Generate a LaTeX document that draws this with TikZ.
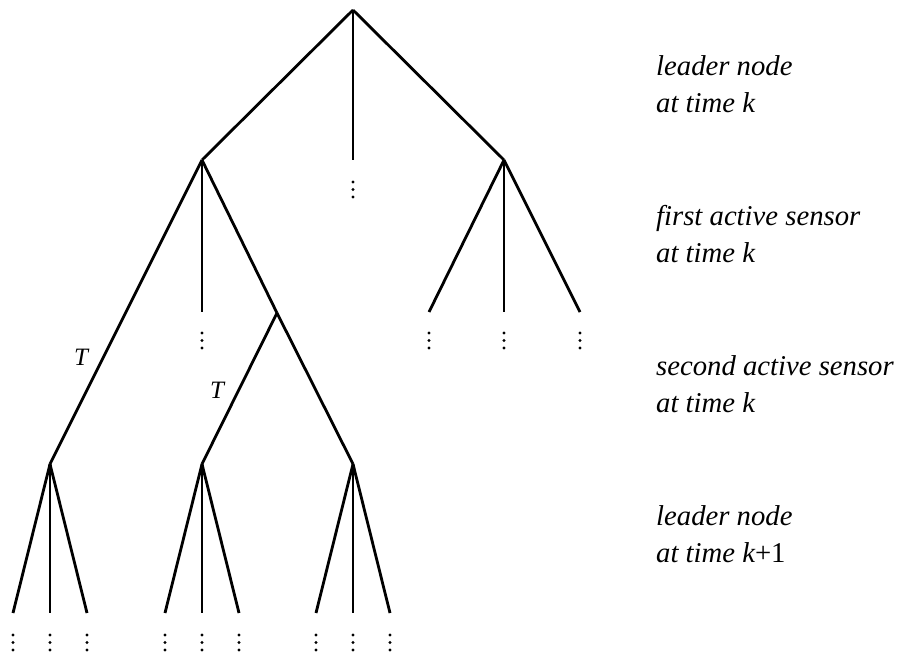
\documentclass[tikz,border=0pt]{standalone}
\usepackage{fontspec}
\setmainfont{Liberation Serif}
\usetikzlibrary{calc}
\begin{document}
\begin{tikzpicture}[x=1pt,y=-1pt,
  edge/.style={line width=2.8pt,line cap=butt,line join=miter},
  lbl/.style={anchor=base west,inner sep=0pt,font=\fontsize{28.7}{32}\selectfont\itshape},
  tlbl/.style={inner sep=0pt,font=\fontsize{25}{28}\selectfont\itshape},
  vd/.pic={\fill (0,0) circle (1.7) (0,7.5) circle (1.7) (0,15) circle (1.7);}]
\useasboundingbox (0,0) rectangle (904,656);

% tree vertices
\coordinate (R) at (353,10);
\coordinate (A) at (202,160);
\coordinate (M) at (353,160);
\coordinate (C) at (504,160);
\coordinate (Am) at (202,312);
\coordinate (B) at (277,313);
\coordinate (L1) at (50,464);
\coordinate (L2) at (202,464);
\coordinate (L3) at (353,464);
\coordinate (C1) at (429,312);
\coordinate (C2) at (504,312);
\coordinate (C3) at (580,312);

% upper levels
\draw[edge] (R) -- (A);
\draw[edge] (R) -- (M);
\draw[edge] (R) -- (C);
\draw[edge] (A) -- (L1);
\draw[edge] (A) -- (Am);
\draw[edge] (A) -- (B);
\draw[edge] (B) -- (L3);
\draw[edge] (B) -- (L2);
\draw[edge] (C) -- (C1);
\draw[edge] (C) -- (C2);
\draw[edge] (C) -- (C3);

% branch labels
\node[tlbl] (T1) at (81,357) {T};
\node[tlbl] (T2) at (217,390) {T};

% leader nodes at time k+1 and their branches
\foreach \n in {L1,L2,L3}{
  \coordinate (\n a) at ($(\n)+(-37,149)$);
  \coordinate (\n b) at ($(\n)+(0,149)$);
  \coordinate (\n c) at ($(\n)+(37,149)$);
  \draw[edge] (\n) -- (\n a);
  \draw[edge] (\n) -- (\n b);
  \draw[edge] (\n) -- (\n c);
  \pic at ($(\n a)+(0,22)$) {vd};
  \pic at ($(\n b)+(0,22)$) {vd};
  \pic at ($(\n c)+(0,22)$) {vd};
}

% continuation dots
\pic at ($(M)+(0,22)$) {vd};
\pic at ($(Am)+(0,21)$) {vd};
\pic at ($(C1)+(0,21)$) {vd};
\pic at ($(C2)+(0,21)$) {vd};
\pic at ($(C3)+(0,21)$) {vd};

% level captions
\node[lbl] (c1a) at (656,75) {leader node};
\node[lbl] (c1b) at (656,112) {at time k};
\node[lbl] (c2a) at (656,225) {first active sensor};
\node[lbl] (c2b) at (656,262) {at time k};
\node[lbl] (c3a) at (656,375) {second active sensor};
\node[lbl] (c3b) at (656,412) {at time k};
\node[lbl] (c4a) at (656,525) {leader node};
\node[lbl] (c4b) at (656,562) {at time k{\upshape +1}};
\end{tikzpicture}
\end{document}
